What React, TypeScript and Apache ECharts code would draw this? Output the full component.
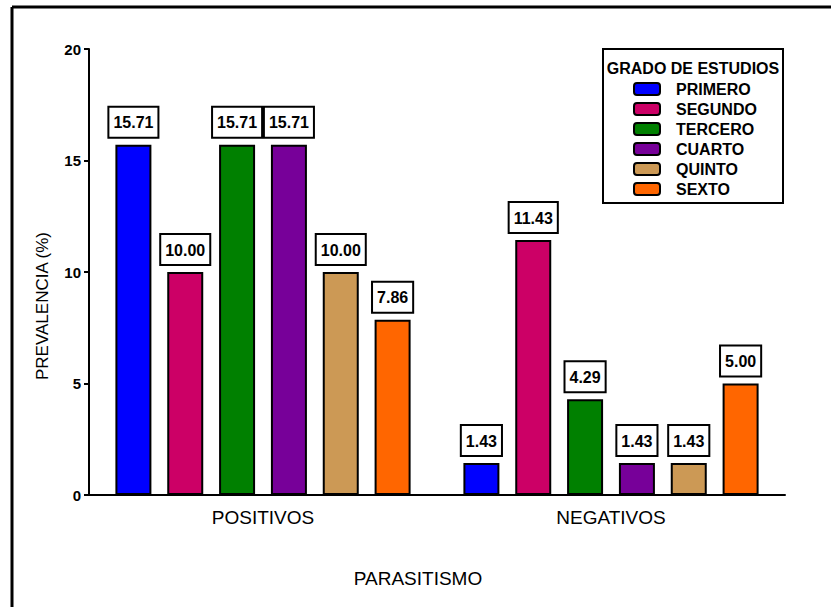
import React, { useEffect, useRef } from "react";
import * as echarts from "echarts";

const categories = ["POSITIVOS", "NEGATIVOS"];
const seriesNames = ["PRIMERO", "SEGUNDO", "TERCERO", "CUARTO", "QUINTO", "SEXTO"];
const primero = [15.71, 1.43];
const segundo = [10.0, 11.43];
const tercero = [15.71, 4.29];
const cuarto = [15.71, 1.43];
const quinto = [10.0, 1.43];
const sexto = [7.86, 5.0];
const colors = ["#0000ff", "#cc0066", "#008000", "#770099", "#cc9955", "#ff6600"];
const yTicks = [0, 5, 10, 15, 20];
const yTitle = "PREVALENCIA (%)";
const xTitle = "PARASITISMO";
const legendTitle = "GRADO DE ESTUDIOS";

const SANS = "'Liberation Sans', Arial, sans-serif";

export default function App() {
  const ref = useRef<HTMLDivElement>(null);
  useEffect(() => {
    document.body.style.margin = "0";
    const chart = echarts.init(ref.current!, null, { renderer: "svg" });
    const values = [primero, segundo, tercero, cuarto, quinto, sexto];
    chart.setOption({
      animation: false,
      backgroundColor: "#ffffff",
      grid: { left: 89, right: 46, top: 49, bottom: 112, containLabel: false },
      legend: {
        orient: "vertical",
        left: 633,
        top: 81,
        padding: 0,
        itemWidth: 26,
        itemHeight: 12,
        itemGap: 4,
        icon: "roundRect",
        data: seriesNames,
        textStyle: { fontFamily: SANS, fontWeight: "bold", fontSize: 16, color: "#000", padding: [0, 0, 0, 11] },
      },
      xAxis: {
        type: "category",
        data: categories,
        axisLine: { lineStyle: { color: "#000", width: 2 } },
        axisTick: { alignWithLabel: true, length: 6, lineStyle: { color: "#000", width: 2 } },
        axisLabel: { fontFamily: SANS, fontSize: 19, color: "#000", margin: 13 },
      },
      yAxis: {
        type: "value",
        min: yTicks[0],
        max: yTicks[yTicks.length - 1],
        interval: 5,
        splitLine: { show: false },
        axisLine: { show: true, lineStyle: { color: "#000", width: 2 } },
        axisTick: { show: true, length: 5, lineStyle: { color: "#000", width: 2 } },
        axisLabel: { fontFamily: SANS, fontWeight: "bold", fontSize: 15, color: "#000", margin: 8 },
      },
      series: seriesNames.map((name, i) => ({
        name,
        type: "bar",
        data: values[i],
        barWidth: 36,
        barGap: "44%",
        itemStyle: { color: colors[i], borderColor: "#000", borderWidth: 2 },
        label: {
          show: true,
          position: "top",
          distance: 8,
          formatter: (p: any) => Number(p.value).toFixed(2),
          backgroundColor: "#fff",
          borderColor: "#000",
          borderWidth: 2,
          padding: [7, 4, 6, 4],
          fontFamily: SANS,
          fontWeight: "bold",
          fontSize: 16,
          color: "#000",
        },
      })),
      graphic: [
        { type: "line", shape: { x1: 12, y1: 7, x2: 831, y2: 7 }, style: { stroke: "#000", lineWidth: 3 } },
        { type: "line", shape: { x1: 12, y1: 7, x2: 12, y2: 607 }, style: { stroke: "#000", lineWidth: 3 } },
        {
          type: "rect",
          shape: { x: 603, y: 49, width: 180, height: 154 },
          style: { fill: "#fff", stroke: "#000", lineWidth: 2 },
          z: -1,
        },
        {
          type: "text",
          x: 693,
          y: 68,
          style: {
            text: legendTitle,
            fontFamily: SANS,
            fontWeight: "bold",
            fontSize: 16,
            fill: "#000",
            align: "center",
            verticalAlign: "middle",
          },
        },
        {
          type: "text",
          x: 42,
          y: 306,
          rotation: Math.PI / 2,
          style: {
            text: yTitle,
            fontFamily: SANS,
            fontSize: 17,
            fill: "#000",
            align: "center",
            verticalAlign: "middle",
          },
        },
        {
          type: "text",
          x: 418,
          y: 578,
          style: {
            text: xTitle,
            fontFamily: SANS,
            fontSize: 19,
            fill: "#000",
            align: "center",
            verticalAlign: "middle",
          },
        },
      ],
    });
    return () => chart.dispose();
  }, []);
  return <div ref={ref} style={{ width: 831, height: 607 }} />;
}
